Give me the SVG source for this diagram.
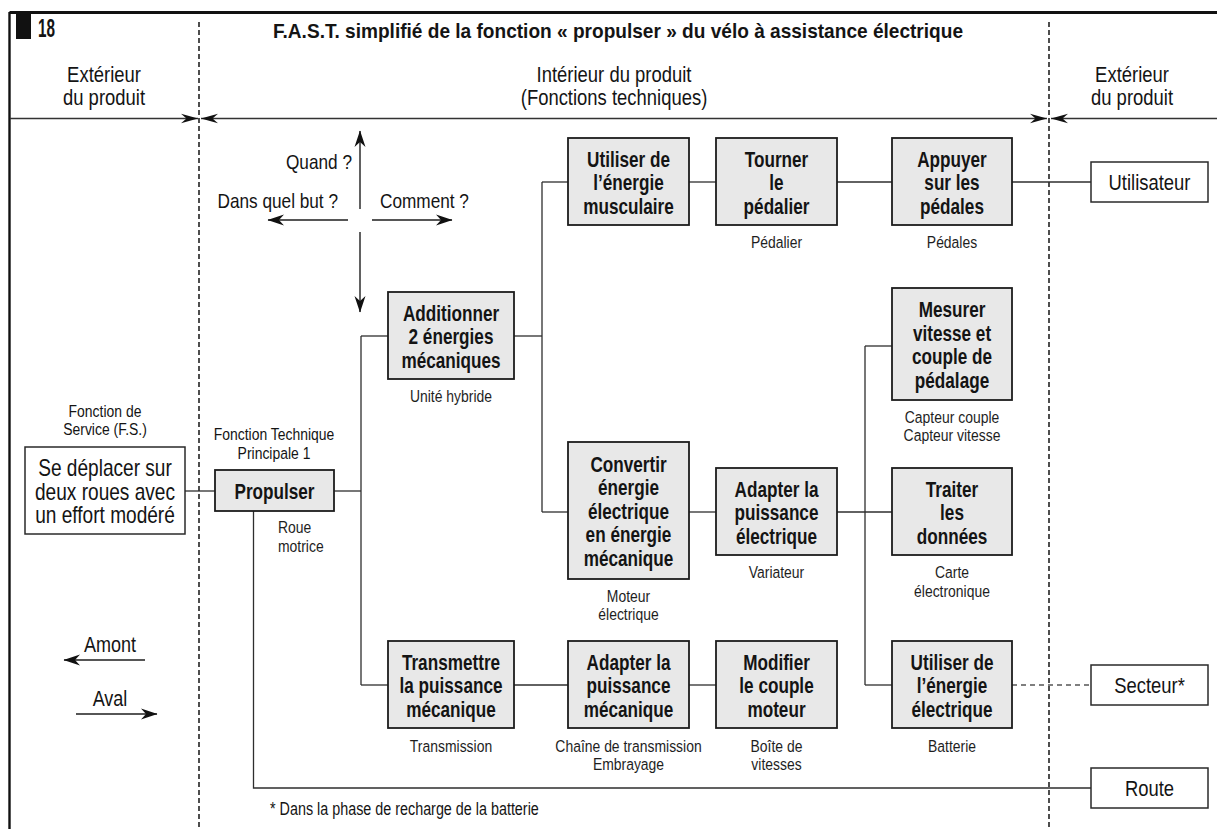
<svg xmlns="http://www.w3.org/2000/svg" width="1217" height="829" viewBox="0 0 1217 829">
<style>
text{font-family:'Liberation Sans',Arial,sans-serif;fill:#141414}
.fn rect{fill:#e8e8e8;stroke:#1c1c1c;stroke-width:1.8}
.ext rect{fill:#fff;stroke:#2a2a2a;stroke-width:1.5}
.b{font-size:22px;font-weight:bold;text-anchor:middle}
.e{font-size:22.5px;text-anchor:middle}
.fsx{font-size:23px;text-anchor:middle}
.lbl{font-size:17px;text-anchor:middle;fill:#1e1e1e}
.lbs{font-size:17px;fill:#1e1e1e}
.cap{font-size:17px;text-anchor:middle}
.hdr{font-size:22.5px;text-anchor:middle}
.q{font-size:21px}
.qe{font-size:21px;text-anchor:end}
.lg{font-size:22px;text-anchor:middle}
.conn path{fill:none;stroke:#2e2e2e;stroke-width:1.3}
.conn path.dash{stroke-dasharray:5 4;stroke:#555}
.sep{stroke:#222;stroke-width:1.6;stroke-dasharray:5 3;fill:none}
.arr{fill:none;stroke:#1e1e1e;stroke-width:1.4}
</style>
<defs>
<marker id="ha" viewBox="-19 -6 20 12" markerWidth="20" markerHeight="12" refX="0" refY="0" orient="auto-start-reverse" markerUnits="userSpaceOnUse">
<path d="M0,0 L-17,-4.8 L-11.5,0 L-17,4.8 Z" fill="#111"/>
</marker>
<marker id="qa" viewBox="-18 -7 20 14" markerWidth="20" markerHeight="14" refX="0" refY="0" orient="auto-start-reverse" markerUnits="userSpaceOnUse">
<path d="M0.5,0 L-16,-5.5 L-11,0 L-16,5.5 Z" fill="#111"/>
</marker>
</defs>
<rect width="1217" height="829" fill="#fff"/>

<g id="frame">
<path d="M9.5,12.5 H1217" stroke="#111" stroke-width="2.8" fill="none"/>
<path d="M9.5,12 V829" stroke="#111" stroke-width="2.4" fill="none"/>
<rect x="16" y="13" width="15" height="26" fill="#111"/>
<text x="38" y="37" font-size="25" font-weight="bold" textLength="17" lengthAdjust="spacingAndGlyphs">18</text>
<text x="618" y="38" font-size="21" font-weight="bold" text-anchor="middle" textLength="690" lengthAdjust="spacingAndGlyphs">F.A.S.T. simplifié de la fonction « propulser » du vélo à assistance électrique</text>
</g>

<g id="zones">
<path class="sep" d="M199,22 V829"/>
<path class="sep" d="M1049,22 V829"/>
<text class="hdr" transform="matrix(.82 0 0 1 104 82)">Extérieur</text>
<text class="hdr" transform="matrix(.82 0 0 1 104 105)">du produit</text>
<text class="hdr" transform="matrix(.82 0 0 1 614 82)">Intérieur du produit</text>
<text class="hdr" transform="matrix(.82 0 0 1 614 105)">(Fonctions techniques)</text>
<text class="hdr" transform="matrix(.82 0 0 1 1132 82)">Extérieur</text>
<text class="hdr" transform="matrix(.82 0 0 1 1132 105)">du produit</text>
<path d="M10,118.5 H198" stroke="#333" stroke-width="1.3" marker-end="url(#ha)"/>
<path d="M201,118.5 H1047" stroke="#333" stroke-width="1.3" marker-start="url(#ha)" marker-end="url(#ha)"/>
<path d="M1051,118.5 H1217" stroke="#333" stroke-width="1.3" marker-start="url(#ha)"/>
</g>

<g id="questions">
<path class="arr" d="M360,209 V131" marker-end="url(#qa)"/>
<path class="arr" d="M360,232 V312" marker-end="url(#qa)"/>
<path class="arr" d="M348,220 H268" marker-end="url(#qa)"/>
<path class="arr" d="M372,220 H452" marker-end="url(#qa)"/>
<text class="qe" transform="matrix(.82 0 0 1 352 169)">Quand ?</text>
<text class="qe" transform="matrix(.82 0 0 1 338 208)">Dans quel but ?</text>
<text class="q" transform="matrix(.82 0 0 1 380 208)">Comment ?</text>
</g>

<g id="legend">
<text class="lg" transform="matrix(.82 0 0 1 110 652)">Amont</text>
<path class="arr" d="M145,660 H64" marker-end="url(#qa)"/>
<text class="lg" transform="matrix(.82 0 0 1 110 706)">Aval</text>
<path class="arr" d="M76,714 H157" marker-end="url(#qa)"/>
<text font-size="17.5" transform="matrix(.82 0 0 1 270 815)">* Dans la phase de recharge de la batterie</text>
</g>

<g class="conn" id="connectors">
<path d="M185,491 H215"/>
<path d="M334,491 H361"/>
<path d="M361,336 V685"/>
<path d="M361,336 H388"/>
<path d="M361,685 H388"/>
<path d="M514,336 H542"/>
<path d="M542,182 V512"/>
<path d="M542,182 H568"/>
<path d="M542,512 H568"/>
<path d="M689,182 H716"/>
<path d="M837,182 H892"/>
<path d="M1012,182 H1091"/>
<path d="M689,512 H716"/>
<path d="M837,512 H892"/>
<path d="M865,346 V685"/>
<path d="M865,346 H892"/>
<path d="M865,685 H892"/>
<path d="M514,685 H568"/>
<path d="M689,685 H716"/>
<path d="M253.5,511 V788 H1091"/>
<path class="dash" d="M1012,685 H1091"/>
</g>

<g id="fs" class="ext">
<text class="cap" transform="matrix(.82 0 0 1 105 417)">Fonction de</text>
<text class="cap" transform="matrix(.82 0 0 1 105 435)">Service (F.S.)</text>
<rect x="25" y="447" width="160" height="87"/>
<text class="fsx" transform="matrix(.83 0 0 1 105 476)">Se déplacer sur</text>
<text class="fsx" transform="matrix(.83 0 0 1 105 499.5)">deux roues avec</text>
<text class="fsx" transform="matrix(.83 0 0 1 105 523)">un effort modéré</text>
</g>

<g id="propulser" class="fn">
<text class="cap" transform="matrix(.82 0 0 1 274 440)">Fonction Technique</text>
<text class="cap" transform="matrix(.82 0 0 1 274 459)">Principale 1</text>
<rect x="215" y="470" width="119" height="41"/>
<text class="b" transform="matrix(.78 0 0 1 274.5 499)">Propulser</text>
<text class="lbs" transform="matrix(.82 0 0 1 278 533)">Roue</text>
<text class="lbs" transform="matrix(.82 0 0 1 278 552)">motrice</text>
</g>

<g id="additionner" class="fn">
<rect x="388" y="292" width="126" height="87"/>
<text class="b" transform="matrix(.78 0 0 1 451 320.5)">Additionner</text>
<text class="b" transform="matrix(.78 0 0 1 451 344)">2 énergies</text>
<text class="b" transform="matrix(.78 0 0 1 451 367.5)">mécaniques</text>
<text class="lbl" transform="matrix(.82 0 0 1 451 402)">Unité hybride</text>
</g>

<g id="transmettre" class="fn">
<rect x="388" y="641" width="126" height="87"/>
<text class="b" transform="matrix(.78 0 0 1 451 669.5)">Transmettre</text>
<text class="b" transform="matrix(.78 0 0 1 451 693)">la puissance</text>
<text class="b" transform="matrix(.78 0 0 1 451 716.5)">mécanique</text>
<text class="lbl" transform="matrix(.82 0 0 1 451 752)">Transmission</text>
</g>

<g id="utiliser-musculaire" class="fn">
<rect x="568" y="138" width="121" height="87"/>
<text class="b" transform="matrix(.78 0 0 1 628.5 166.5)">Utiliser de</text>
<text class="b" transform="matrix(.78 0 0 1 628.5 190)">l’énergie</text>
<text class="b" transform="matrix(.78 0 0 1 628.5 213.5)">musculaire</text>
</g>

<g id="tourner" class="fn">
<rect x="716" y="138" width="121" height="87"/>
<text class="b" transform="matrix(.78 0 0 1 776.5 166.5)">Tourner</text>
<text class="b" transform="matrix(.78 0 0 1 776.5 190)">le</text>
<text class="b" transform="matrix(.78 0 0 1 776.5 213.5)">pédalier</text>
<text class="lbl" transform="matrix(.82 0 0 1 776.5 248)">Pédalier</text>
</g>

<g id="appuyer" class="fn">
<rect x="892" y="138" width="120" height="87"/>
<text class="b" transform="matrix(.78 0 0 1 952 166.5)">Appuyer</text>
<text class="b" transform="matrix(.78 0 0 1 952 190)">sur les</text>
<text class="b" transform="matrix(.78 0 0 1 952 213.5)">pédales</text>
<text class="lbl" transform="matrix(.82 0 0 1 952 248)">Pédales</text>
</g>

<g id="mesurer" class="fn">
<rect x="892" y="288" width="120" height="112"/>
<text class="b" transform="matrix(.78 0 0 1 952 317)">Mesurer</text>
<text class="b" transform="matrix(.78 0 0 1 952 340.5)">vitesse et</text>
<text class="b" transform="matrix(.78 0 0 1 952 364)">couple de</text>
<text class="b" transform="matrix(.78 0 0 1 952 387.5)">pédalage</text>
<text class="lbl" transform="matrix(.82 0 0 1 952 423)">Capteur couple</text>
<text class="lbl" transform="matrix(.82 0 0 1 952 441)">Capteur vitesse</text>
</g>

<g id="convertir" class="fn">
<rect x="568" y="442" width="121" height="137"/>
<text class="b" transform="matrix(.78 0 0 1 628.5 471.5)">Convertir</text>
<text class="b" transform="matrix(.78 0 0 1 628.5 495)">énergie</text>
<text class="b" transform="matrix(.78 0 0 1 628.5 518.5)">électrique</text>
<text class="b" transform="matrix(.78 0 0 1 628.5 542)">en énergie</text>
<text class="b" transform="matrix(.78 0 0 1 628.5 565.5)">mécanique</text>
<text class="lbl" transform="matrix(.82 0 0 1 628.5 602)">Moteur</text>
<text class="lbl" transform="matrix(.82 0 0 1 628.5 620)">électrique</text>
</g>

<g id="adapter-electrique" class="fn">
<rect x="716" y="468" width="121" height="87"/>
<text class="b" transform="matrix(.78 0 0 1 776.5 496.5)">Adapter la</text>
<text class="b" transform="matrix(.78 0 0 1 776.5 520)">puissance</text>
<text class="b" transform="matrix(.78 0 0 1 776.5 543.5)">électrique</text>
<text class="lbl" transform="matrix(.82 0 0 1 776.5 578)">Variateur</text>
</g>

<g id="traiter" class="fn">
<rect x="892" y="468" width="120" height="87"/>
<text class="b" transform="matrix(.78 0 0 1 952 496.5)">Traiter</text>
<text class="b" transform="matrix(.78 0 0 1 952 520)">les</text>
<text class="b" transform="matrix(.78 0 0 1 952 543.5)">données</text>
<text class="lbl" transform="matrix(.82 0 0 1 952 578)">Carte</text>
<text class="lbl" transform="matrix(.82 0 0 1 952 597)">électronique</text>
</g>

<g id="adapter-mecanique" class="fn">
<rect x="568" y="641" width="121" height="87"/>
<text class="b" transform="matrix(.78 0 0 1 628.5 669.5)">Adapter la</text>
<text class="b" transform="matrix(.78 0 0 1 628.5 693)">puissance</text>
<text class="b" transform="matrix(.78 0 0 1 628.5 716.5)">mécanique</text>
<text class="lbl" transform="matrix(.82 0 0 1 628.5 752)">Chaîne de transmission</text>
<text class="lbl" transform="matrix(.82 0 0 1 628.5 770)">Embrayage</text>
</g>

<g id="modifier" class="fn">
<rect x="716" y="641" width="121" height="87"/>
<text class="b" transform="matrix(.78 0 0 1 776.5 669.5)">Modifier</text>
<text class="b" transform="matrix(.78 0 0 1 776.5 693)">le couple</text>
<text class="b" transform="matrix(.78 0 0 1 776.5 716.5)">moteur</text>
<text class="lbl" transform="matrix(.82 0 0 1 776.5 752)">Boîte de</text>
<text class="lbl" transform="matrix(.82 0 0 1 776.5 770)">vitesses</text>
</g>

<g id="utiliser-electrique" class="fn">
<rect x="892" y="641" width="120" height="87"/>
<text class="b" transform="matrix(.78 0 0 1 952 669.5)">Utiliser de</text>
<text class="b" transform="matrix(.78 0 0 1 952 693)">l’énergie</text>
<text class="b" transform="matrix(.78 0 0 1 952 716.5)">électrique</text>
<text class="lbl" transform="matrix(.82 0 0 1 952 752)">Batterie</text>
</g>

<g id="utilisateur" class="ext">
<rect x="1091" y="162" width="117" height="40"/>
<text class="e" transform="matrix(.82 0 0 1 1149.5 190)">Utilisateur</text>
</g>

<g id="secteur" class="ext">
<rect x="1091" y="665" width="117" height="40"/>
<text class="e" transform="matrix(.82 0 0 1 1149.5 693)">Secteur*</text>
</g>

<g id="route" class="ext">
<rect x="1091" y="768" width="117" height="40"/>
<text class="e" transform="matrix(.82 0 0 1 1149.5 796)">Route</text>
</g>
</svg>
